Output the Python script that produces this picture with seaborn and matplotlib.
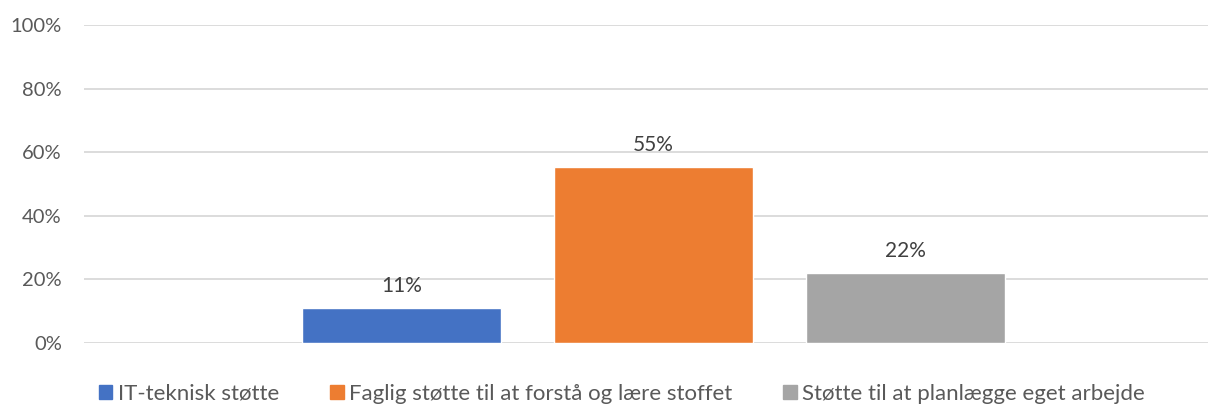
import matplotlib.pyplot as plt
import seaborn as sns
import pandas as pd
from matplotlib.ticker import PercentFormatter

# Data
series = ["IT-teknisk støtte",
          "Faglig støtte til at forstå og lære stoffet",
          "Støtte til at planlægge eget arbejde"]
values = [0.11, 0.553, 0.22]
colors = ["#4472C4", "#ED7D31", "#A5A5A5"]
yticks = [0, 0.2, 0.4, 0.6, 0.8, 1.0]

df = pd.DataFrame({"group": [""] * len(series), "series": series, "value": values})

sns.set_style("white")
plt.rcParams['font.family'] = ['Lato', 'DejaVu Sans']

fig = plt.figure(figsize=(12.09, 4.05), dpi=100)
ax = fig.add_axes([84 / 1209, 62 / 405, 1124 / 1209, 318 / 405])

sns.barplot(data=df, x="group", y="value", hue="series", palette=colors,
            hue_order=series, width=0.75, gap=0.21, dodge=True, ax=ax,
            legend=False, saturation=1, zorder=3)

ax.set_xlim(-0.565, 0.55)
ax.set_ylim(0, 1)
ax.set_yticks(yticks)
ax.yaxis.set_major_formatter(PercentFormatter(1.0, decimals=0))
ax.grid(axis="y", color="#D9D9D9", linewidth=1.3, zorder=0)
ax.set_axisbelow(True)
ax.set_xlabel("")
ax.set_ylabel("")
ax.set_xticks([])
ax.tick_params(axis="y", length=0, pad=16, labelsize=14.5, labelcolor="#595959")
for s in ax.spines.values():
    s.set_visible(False)

for cont in ax.containers:
    ax.bar_label(cont, labels=[f"{v * 100:.0f}%" for v in cont.datavalues],
                 padding=9, fontsize=15, color="#404040")

handles = [plt.Rectangle((0, 0), 1, 1, color=c) for c in colors]
fig.legend(handles, series, loc="center", bbox_to_anchor=(622 / 1209, 11 / 405),
           ncol=3, frameon=False, fontsize=16, labelcolor="#595959",
           handlelength=0.6, handleheight=0.6, handletextpad=0.25,
           columnspacing=2.3)

fig.savefig("out.png", dpi=100)
